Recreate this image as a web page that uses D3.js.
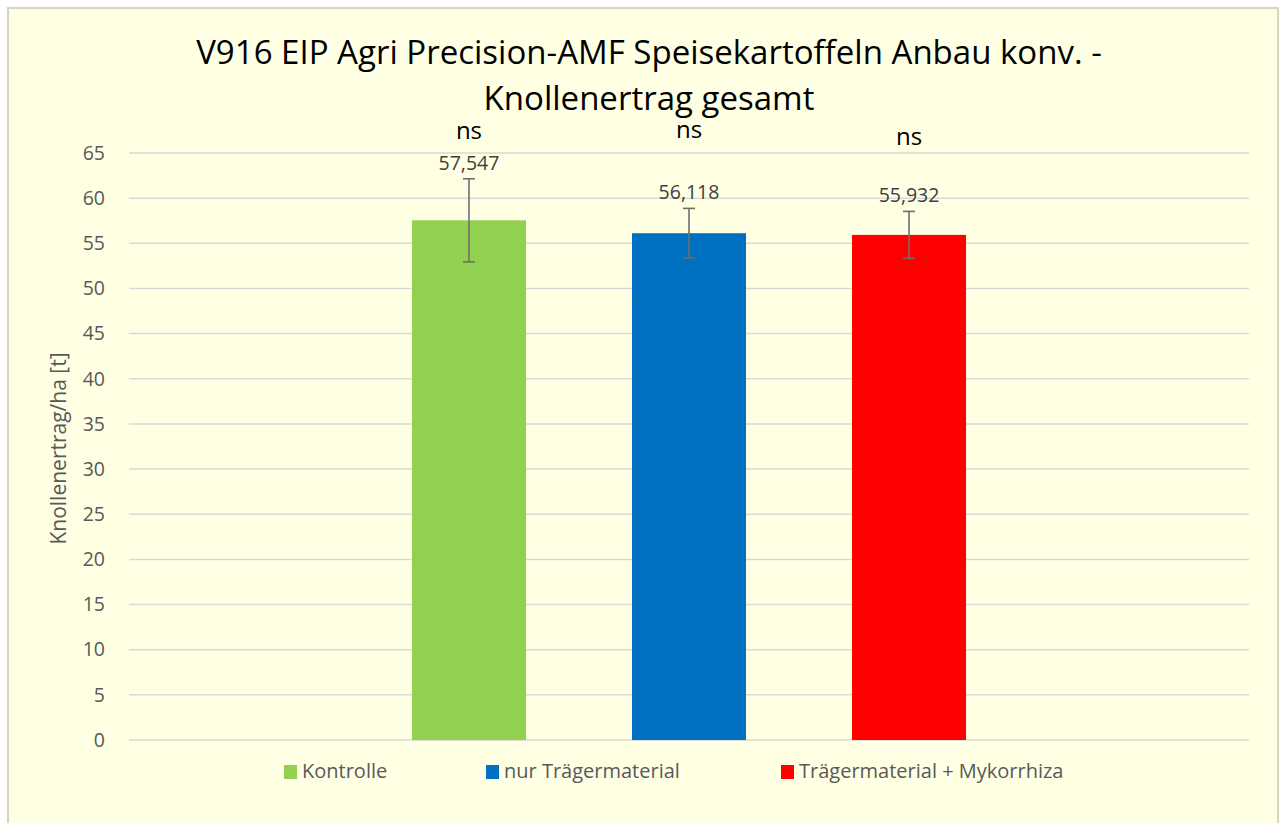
<!DOCTYPE html>
<html>
<head>
<meta charset="utf-8">
<script src="https://cdn.jsdelivr.net/npm/d3@7"></script>
<style>
  html, body { margin: 0; padding: 0; background: #ffffff; }
  svg { display: block; }
  text { font-family: "Open Sans", Lato, sans-serif; }
</style>
</head>
<body>
<div id="chart"></div>
<script>
// ---- data ----
const series = ["Kontrolle", "nur Trägermaterial", "Trägermaterial + Mykorrhiza"];
const values = [57.547, 56.118, 55.932];
const errors = [4.6, 2.75, 2.6];
const colors = ["#92D050", "#0070C0", "#FF0000"];
const signif = ["ns", "ns", "ns"];
const signifLevel = [67.4, 67.55, 66.75];
const yTicks = [0, 5, 10, 15, 20, 25, 30, 35, 40, 45, 50, 55, 60, 65];
const titleLines = ["V916 EIP Agri Precision-AMF Speisekartoffeln Anbau konv. -", "Knollenertrag gesamt"];
const yLabel = "Knollenertrag/ha [t]";

// ---- layout ----
const W = 1283, H = 823;
const plot = { left: 129, right: 1249, top: 153, bottom: 740 };

const svg = d3.select("#chart").append("svg").attr("width", W).attr("height", H);

svg.append("rect").attr("x", 8).attr("y", 8).attr("width", W - 13).attr("height", H)
  .attr("fill", "#FFFFE4").attr("stroke", "#D8D4C4").attr("stroke-width", 2);

const y = d3.scaleLinear().domain([0, 65]).range([plot.bottom, plot.top]);
const x = d3.scaleBand().domain(series).range([plot.left, plot.right])
  .paddingInner(0.4818).paddingOuter(1.286);

// gridlines
svg.append("g").selectAll("line").data(yTicks).join("line")
  .attr("x1", plot.left).attr("x2", plot.right)
  .attr("y1", d => y(d)).attr("y2", d => y(d))
  .attr("stroke", "#D9D9D9").attr("stroke-width", 1.5);

// y axis labels
const yAxis = d3.axisLeft(y).tickValues(yTicks).tickSize(0).tickPadding(0).tickFormat(d3.format("d"));
const gy = svg.append("g").attr("transform", `translate(${plot.left - 24},0)`).call(yAxis);
gy.select(".domain").remove();
gy.selectAll("text").attr("fill", "#595959").style("font-size", "19.5px")
  .style("font-family", "'Open Sans', sans-serif");

// y axis title
svg.append("text")
  .attr("transform", `translate(66,${(plot.top + plot.bottom) / 2 + 2}) rotate(-90)`)
  .attr("text-anchor", "middle").attr("fill", "#595959").style("font-size", "21px")
  .text(yLabel);

// title
const tl = svg.append("g").selectAll("text").data(titleLines).join("text")
  .attr("x", 649).attr("y", (d, i) => 64 + i * 46)
  .attr("text-anchor", "middle").attr("fill", "#000").style("font-size", "30px")
  .text(d => d);
// fit first line to its width in the reference
const len0 = tl.nodes()[0].getComputedTextLength();
const fs = Math.min(34, 30 * 906 / len0);
tl.style("font-size", fs + "px");

// bars
svg.append("g").selectAll("rect").data(series).join("rect")
  .attr("x", d => x(d)).attr("width", x.bandwidth())
  .attr("y", (d, i) => y(values[i])).attr("height", (d, i) => y(0) - y(values[i]))
  .attr("fill", (d, i) => colors[i]);

// error bars
const eb = svg.append("g").attr("stroke", "#6E6E6E").attr("stroke-width", 1.6);
series.forEach((s, i) => {
  const cx = x(s) + x.bandwidth() / 2;
  const top = y(values[i] + errors[i]), bot = y(values[i] - errors[i]);
  eb.append("line").attr("x1", cx).attr("x2", cx).attr("y1", top).attr("y2", bot);
  eb.append("line").attr("x1", cx - 6).attr("x2", cx + 6).attr("y1", top).attr("y2", top);
  eb.append("line").attr("x1", cx - 6).attr("x2", cx + 6).attr("y1", bot).attr("y2", bot);
});

// value labels
const fmt = v => d3.format(".3f")(v).replace(".", ",");
svg.append("g").selectAll("text").data(series).join("text")
  .attr("x", d => x(d) + x.bandwidth() / 2)
  .attr("y", (d, i) => y(values[i] + errors[i]) - 9)
  .attr("text-anchor", "middle").attr("fill", "#404040").style("font-size", "19.5px")
  .text((d, i) => fmt(values[i]));

// significance labels
svg.append("g").selectAll("text").data(series).join("text")
  .attr("x", d => x(d) + x.bandwidth() / 2)
  .attr("y", (d, i) => y(signifLevel[i]) + 8)
  .attr("text-anchor", "middle").attr("fill", "#000").style("font-size", "24px")
  .text((d, i) => signif[i]);

// legend
const legendX = [284, 486, 781];
const lg = svg.append("g");
series.forEach((s, i) => {
  lg.append("rect").attr("x", legendX[i]).attr("y", 765).attr("width", 13).attr("height", 14).attr("fill", colors[i]);
  lg.append("text").attr("x", legendX[i] + 18).attr("y", 778).attr("fill", "#595959")
    .style("font-size", "20px").text(s);
});
</script>
</body>
</html>
